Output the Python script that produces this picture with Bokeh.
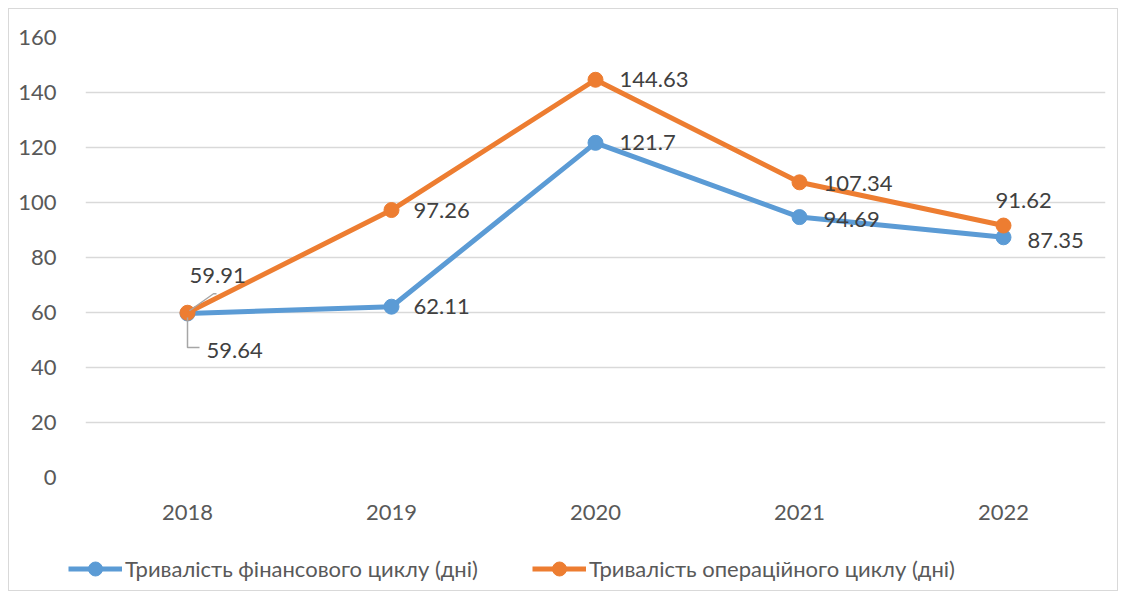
from bokeh.plotting import figure
from bokeh.layouts import column
from bokeh.models import Range1d, FixedTicker, Legend, LegendItem, ColumnDataSource
from bokeh.core.properties import value
from bokeh.embed import file_html
from bokeh.resources import INLINE

years = ["2018", "2019", "2020", "2021", "2022"]
fin_cycle = [59.64, 62.11, 121.7, 94.69, 87.35]
op_cycle = [59.91, 97.26, 144.63, 107.34, 91.62]
fin_name = "Тривалість фінансового циклу (дні)"
op_name = "Тривалість операційного циклу (дні)"

# label pixel offsets (style only)
fin_dx = [19, 22, 24, 24, 24]
fin_dy = [37, 0, 0, 2, 3]
op_dx = [2, 22, 24, 24, -8]
op_dy = [-37, 0, 0, 1, -25]

FONT = "Lato"
FS = "22px"
BLUE = "#5B9BD5"
ORANGE = "#ED7D31"

W = 1108
H1, H2 = 529, 52
ML, MR, MT = 76, 12, 28
FW, FH = W - ML - MR, 440
MB = H1 - MT - FH
X0, X1, Y0, Y1 = -0.5, 4.5, 0, 160
px_x = FW / (X1 - X0)
px_y = FH / (Y1 - Y0)

p = figure(width=W, height=H1, x_range=Range1d(X0, X1), y_range=Range1d(Y0, Y1),
           output_backend="svg", toolbar_location=None,
           min_border_left=ML, min_border_right=MR, min_border_top=MT, min_border_bottom=MB)
p.outline_line_color = None
p.background_fill_color = "white"
p.border_fill_color = "white"

xs = list(range(len(years)))
p.xaxis.ticker = FixedTicker(ticks=xs)
p.xaxis.major_label_overrides = {i: y for i, y in enumerate(years)}
p.yaxis.ticker = FixedTicker(ticks=list(range(0, 161, 20)))
for ax in (p.xaxis[0], p.yaxis[0]):
    ax.axis_line_color = None
    ax.major_tick_line_color = None
    ax.minor_tick_line_color = None
    ax.major_label_text_font = FONT
    ax.major_label_text_font_size = FS
    ax.major_label_text_color = "#595959"
p.xaxis.major_label_standoff = 21
p.yaxis.major_label_standoff = 23
p.xgrid.grid_line_color = None
p.ygrid.grid_line_color = "#D9D9D9"
p.ygrid.grid_line_width = 1.5

src = ColumnDataSource(dict(x=xs, fin=fin_cycle, op=op_cycle,
                            fin_lbl=[str(v) for v in fin_cycle],
                            op_lbl=[str(v) for v in op_cycle],
                            fin_dx=fin_dx, fin_dy=fin_dy, op_dx=op_dx, op_dy=op_dy))

p.line("x", "fin", source=src, line_color=BLUE, line_width=5)
p.scatter("x", "fin", source=src, size=15, fill_color=BLUE, line_color=BLUE)
p.line("x", "op", source=src, line_color=ORANGE, line_width=5)
p.scatter("x", "op", source=src, size=15, fill_color=ORANGE, line_color=ORANGE)

# leader lines for 2018 labels (derived from data point + pixel offsets)
x0f, y0f = xs[0], fin_cycle[0]
p.line([x0f, x0f, x0f + 12 / px_x], [y0f - 4 / px_y, y0f - 34 / px_y, y0f - 34 / px_y],
       line_color="#A6A6A6", line_width=1.5)
x0o, y0o = xs[0], op_cycle[0]
p.line([x0o + 2 / px_x, x0o + 26 / px_x, x0o + 29 / px_x],
       [y0o + 2 / px_y, y0o + 19 / px_y, y0o + 19 / px_y],
       line_color="#A6A6A6", line_width=1.5)

for col, dx, dy in (("fin", "fin_dx", "fin_dy"), ("op", "op_dx", "op_dy")):
    p.text("x", col, text=col + "_lbl", source=src, x_offset=dx, y_offset=dy,
           text_font=value(FONT), text_font_size=FS, text_color="#404040",
           text_align="left", text_baseline="middle")

# legend strip (separate figure so the legend is not clipped by the main frame);
# its series lie outside this strip's y range, so only their legend glyphs show
q = figure(width=W, height=H2, x_range=Range1d(X0, X1), y_range=Range1d(-1, 0),
           output_backend="svg", toolbar_location=None,
           x_axis_location=None, y_axis_location=None,
           min_border_left=0, min_border_right=0, min_border_top=0, min_border_bottom=0)
if "frame_align" in q.properties():
    q.frame_align = False
    p.frame_align = False
    LEG_X = 59
else:
    LEG_X = -16
q.grid.visible = False
q.outline_line_color = None
q.border_fill_color = "white"
q.background_fill_color = "white"
lr1 = q.line(xs, fin_cycle, line_color=BLUE, line_width=5)
sr1 = q.scatter(xs, fin_cycle, size=15, fill_color=BLUE, line_color=BLUE)
lr2 = q.line(xs, op_cycle, line_color=ORANGE, line_width=5)
sr2 = q.scatter(xs, op_cycle, size=15, fill_color=ORANGE, line_color=ORANGE)
legend = Legend(items=[LegendItem(label=fin_name, renderers=[lr1, sr1]),
                       LegendItem(label=op_name, renderers=[lr2, sr2])],
                location=(LEG_X, 4), orientation="horizontal")
legend.border_line_color = None
legend.background_fill_alpha = 0
legend.padding = 0
legend.margin = 0
legend.spacing = 54
legend.glyph_width = 54
legend.glyph_height = 35
legend.label_height = 20
legend.label_standoff = 3
legend.label_text_font = FONT
legend.label_text_font_size = "22px"
legend.label_text_color = "#595959"
q.add_layout(legend, "center")

layout = column(p, q, spacing=0)
layout.styles = {"border": "1px solid #D9D9D9", "margin-left": "8px", "margin-top": "8px",
                 "background-color": "white"}

open("out.html", "w").write(file_html(layout, INLINE))
